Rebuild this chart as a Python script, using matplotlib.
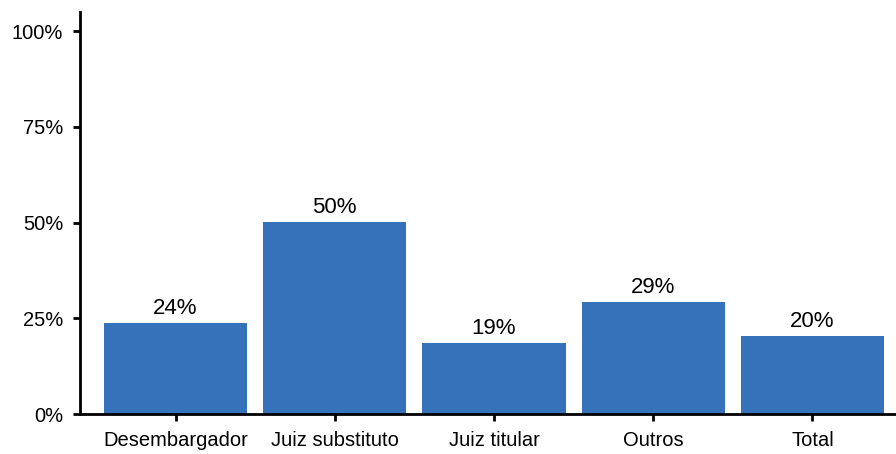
import matplotlib.pyplot as plt

# Data
categories = ["Desembargador", "Juiz substituto", "Juiz titular", "Outros", "Total"]
values = [23.8, 50.1, 18.6, 29.3, 20.4]
labels = ["24%", "50%", "19%", "29%", "20%"]

plt.rcParams['font.family'] = ['Liberation Sans', 'DejaVu Sans']

fig = plt.figure(figsize=(8.96, 4.54), dpi=100)
ax = fig.add_axes([80 / 896, 40 / 454, 816 / 896, 402 / 454])

x = range(len(categories))
bars = ax.bar(x, values, width=0.9, color='#3672b9')

for xi, v, lab in zip(x, values, labels):
    ax.text(xi, v + 1.0, lab, ha='center', va='bottom', fontsize=16)

ax.set_xlim(-0.6, 4.525)
ax.set_ylim(0, 105)
ax.set_yticks([0, 25, 50, 75, 100])
ax.set_yticklabels(["0%", "25%", "50%", "75%", "100%"])
ax.set_xticks(list(x))
ax.set_xticklabels(categories)
ax.tick_params(axis='both', labelsize=14.5, width=2, length=5, color='black')
ax.tick_params(axis='x', pad=7)
ax.tick_params(axis='y', pad=7)

ax.spines['top'].set_visible(False)
ax.spines['right'].set_visible(False)
ax.spines['left'].set_linewidth(2)
ax.spines['bottom'].set_linewidth(2)

fig.savefig('out.png', dpi=100)
